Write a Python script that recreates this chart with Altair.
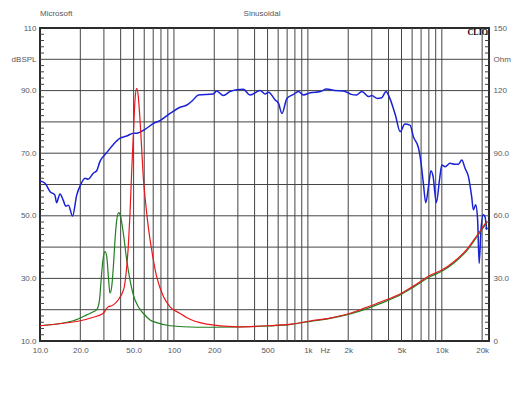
import altair as alt
import pandas as pd

# ---------------- data ----------------
spl_freq = [10, 10.9, 11.9, 12.9, 13.3, 14.1, 14.9, 15.6, 16.3, 17.5, 18.8, 19.9, 21.7, 22.9, 25, 26.5,
            28, 31.5, 35.3, 39.6, 44.5, 49.9, 52.8, 60.8, 70.3, 78.6, 93.5, 110, 125, 139, 152, 197,
            208, 234, 262, 295, 330, 370, 440, 480, 509, 570, 604, 640, 697, 780, 850, 925, 1040,
            1240, 1380, 1590, 1840, 2110, 2300, 2530, 2840, 3000, 3300, 3560, 3830, 4040, 4500,
            4890, 5300, 5800, 6130, 6700, 6950, 7280, 7580, 7950, 8290, 8610, 9100, 9640, 10000,
            10600, 11500, 12500, 13300, 14100, 14900, 15800, 16700, 17200, 17900, 18500, 19000,
            19600, 20400, 21000, 21600]
spl_db = [61.1, 60.4, 57.7, 56.7, 54.2, 57.0, 55.0, 53.1, 53.4, 49.9, 56.6, 59.5, 62.0, 61.7, 63.6, 64.4,
          67.3, 70.2, 72.8, 74.8, 75.5, 76.4, 76.4, 77.6, 79.5, 80.4, 82.7, 84.6, 85.4, 87.0, 88.6, 88.9,
          89.9, 88.4, 89.7, 90.3, 90.4, 88.6, 90.0, 88.9, 89.5, 87.0, 85.9, 82.7, 87.5, 88.8, 89.7, 88.6, 89.3,
          89.7, 90.5, 90.0, 89.9, 88.8, 88.6, 89.7, 88.1, 88.4, 87.5, 87.7, 89.7, 88.1, 82.2,
          76.9, 79.3, 78.9, 75.3, 71.6, 67.8, 60.4, 54.2, 59.3, 64.4, 62.5, 54.2, 62.0, 66.2,
          65.7, 66.8, 66.5, 66.5, 67.8, 65.2, 62.5, 56.1, 51.9, 53.5, 48.7, 34.8,
          45.5, 50.3, 49.7, 45.5]

red_freq = [10, 14.9, 20, 25, 28.9, 29.7, 31.1, 32.4, 34.3, 36.9, 39.1, 41.5, 42.6, 44.4, 45.6, 47.0,
            48.3, 49.8, 51.2, 52.7, 54.2, 55.8, 57.5, 59.0, 60.8, 64.3, 68.2, 74.3, 83.6, 93.5, 110.6,
            132, 156, 200, 250, 300, 500, 750, 1040, 1460, 2100, 2700, 3450, 5000, 6130, 8270, 10000,
            12300, 15600, 18400, 21600]
red_ohm = [7.3, 8.5, 9.7, 11.4, 12.8, 13.3, 15.2, 16.4, 16.9, 18.4, 20.5, 23.6, 26.0, 35.6, 45.2, 61.2,
           80.4, 99.5, 115.5, 121.1, 117.1, 105.9, 91.5, 78.7, 69.1, 54.8, 43.6, 30.8, 21.2, 16.4, 13.3,
           10.4, 8.8, 7.6, 7.0, 6.8, 7.3, 8.1, 9.6, 11.0, 13.4, 16.0, 18.6, 22.9, 26.3, 31.6, 34.0,
           38.0, 44.4, 50.8, 57.2]

green_freq = [10, 17.7, 22.3, 25.7, 26.5, 27.8, 28.6, 29.4, 30.6, 31.5, 32.4, 33.3, 34.3, 35.3, 36.3,
              37.4, 38.7, 40.0, 41.9, 44.4, 47.0, 49.8, 54.2, 59.0, 66.3, 74.3, 93.5, 148, 200, 300,
              500, 750, 1040, 1460, 2100, 2700, 3450, 5000, 6130, 8270, 10000, 12300, 15600, 18400, 21600]
green_ohm = [7.3, 9.7, 12.5, 14.4, 14.9, 19.6, 29.2, 38.0, 42.8, 40.4, 30.8, 22.9, 26.0, 35.6, 48.4,
             58.0, 61.5, 59.6, 51.6, 38.8, 29.2, 22.0, 16.4, 13.3, 10.1, 8.8, 7.3, 6.6, 6.6, 6.7,
             7.2, 8.0, 9.4, 10.8, 13.1, 15.3, 17.9, 22.4, 25.8, 31.0, 33.4, 37.4, 43.8, 50.2, 56.6]

grid_freqs = [20, 30, 40, 50, 60, 70, 80, 90, 100, 200, 300, 400, 500, 600, 700, 800, 900,
              1000, 2000, 3000, 4000, 5000, 6000, 7000, 8000, 9000, 10000, 20000]
x_label_freqs = [10, 20, 50, 100, 200, 500, 1000, 2000, 5000, 10000, 20000]
db_grid = [20, 30, 40, 50, 60, 70, 80, 90, 100]
db_labels = [10, 30, 50, 70, 90, 100, 110]
ohm_labels = [0, 30, 60, 90, 120, 135, 150]
minor_db = [v for v in range(12, 110, 2) if v % 10 != 0]

title_left = ["Microsoft"]
title_mid = ["Sinusoidal"]
brand = ["CLIO"]
unit_hz = ["Hz"]
unit_hz_freq = [1350]

# ---------------- chart ----------------
W, H = 449, 313
FONT = "Liberation Sans"
TXT = "#55575f"
GRID = "#454545"

xs = alt.Scale(type="log", domain=[10, 22500], nice=False)
yL = alt.Scale(domain=[10, 110], nice=False, zero=False)
yR = alt.Scale(domain=[0, 150], nice=False)

x_axis = alt.Axis(values=x_label_freqs, grid=False, ticks=False, domain=False, title=None,
                  labelFlush=False, labelFontSize=8, labelFont=FONT, labelColor=TXT, labelPadding=5,
                  labelExpr="datum.value >= 1000 ? (datum.value/1000) + 'k' : (datum.value < 100 ? format(datum.value, '.1f') : format(datum.value, 'd'))")
yl_axis = alt.Axis(values=db_labels, grid=False, ticks=False, domain=False, title=None,
                   labelFontSize=8, labelFont=FONT, labelColor=TXT, labelPadding=4,
                   labelExpr="datum.value == 110 ? '110' : (datum.value == 100 ? 'dBSPL' : format(datum.value, '.1f'))")
yr_axis = alt.Axis(values=ohm_labels, orient="right", grid=False, ticks=False, domain=False, title=None,
                   labelFontSize=8, labelFont=FONT, labelColor=TXT, labelPadding=4,
                   labelExpr="datum.value == 0 ? '0' : (datum.value == 150 ? '150' : (datum.value == 120 ? '120' : (datum.value == 135 ? 'Ohm' : format(datum.value, '.1f'))))")

X = lambda f: alt.X(f, scale=xs, axis=x_axis)
YL = lambda f: alt.Y(f, scale=yL, axis=yl_axis)
YR = lambda f: alt.Y(f, scale=yR, axis=yr_axis)

vgrid = alt.Chart(pd.DataFrame({"f": grid_freqs})).mark_rule(color=GRID, strokeWidth=1).encode(
    x=X("f:Q"))
hgrid = alt.Chart(pd.DataFrame({"v": db_grid})).mark_rule(color=GRID, strokeWidth=1).encode(
    y=YL("v:Q"))
minor_df = pd.DataFrame({"v": minor_db})
minorL = alt.Chart(minor_df).mark_rule(color="#444", strokeWidth=1).encode(
    y=YL("v:Q"), x=alt.value(0), x2=alt.value(4))
minorR = alt.Chart(minor_df).mark_rule(color="#444", strokeWidth=1).encode(
    y=YL("v:Q"), x=alt.value(W - 4), x2=alt.value(W))

blue = alt.Chart(pd.DataFrame({"f": spl_freq, "db": spl_db})).mark_line(
    color="#1a22d6", strokeWidth=1.5, interpolate="monotone").encode(
    x=X("f:Q"), y=YL("db:Q"))

t_left = alt.Chart(pd.DataFrame({"t": title_left})).mark_text(
    align="left", baseline="middle", fontSize=8, font=FONT, color=TXT).encode(
    x=alt.value(0), y=alt.value(-14), text="t:N")
t_mid = alt.Chart(pd.DataFrame({"t": title_mid})).mark_text(
    align="center", baseline="middle", fontSize=8, font=FONT, color=TXT).encode(
    x=alt.value(222), y=alt.value(-14), text="t:N")
t_brand = alt.Chart(pd.DataFrame({"t": brand})).mark_text(
    align="right", baseline="top", fontSize=8, font="Liberation Serif", fontWeight="bold", color="#000").encode(
    x=alt.value(W - 1), y=alt.value(1), text="t:N")
t_hz = alt.Chart(pd.DataFrame({"f": unit_hz_freq, "t": unit_hz})).mark_text(
    align="center", baseline="top", fontSize=8, font=FONT, color=TXT).encode(
    x=X("f:Q"), y=alt.value(H + 6), text="t:N")

left = alt.layer(vgrid, hgrid, minorL, minorR, blue, t_left, t_mid, t_brand, t_hz)

green = alt.Chart(pd.DataFrame({"f": green_freq, "ohm": green_ohm})).mark_line(
    color="#1f7f1f", strokeWidth=1.2, interpolate="monotone").encode(
    x=X("f:Q"), y=YR("ohm:Q"))
red = alt.Chart(pd.DataFrame({"f": red_freq, "ohm": red_ohm})).mark_line(
    color="#e8171b", strokeWidth=1.2, interpolate="monotone").encode(
    x=X("f:Q"), y=YR("ohm:Q"))
right = alt.layer(green, red)

chart = alt.layer(left, right).resolve_scale(y="independent").properties(
    width=W, height=H,
    autosize=alt.AutoSizeParams(type="none"),
    padding={"left": 32, "top": 20, "right": 33, "bottom": 30},
    background="white",
).configure_view(stroke="#2b2b2b", strokeWidth=2)

chart.save("out.html", embed_options={"renderer": "svg", "actions": False})
